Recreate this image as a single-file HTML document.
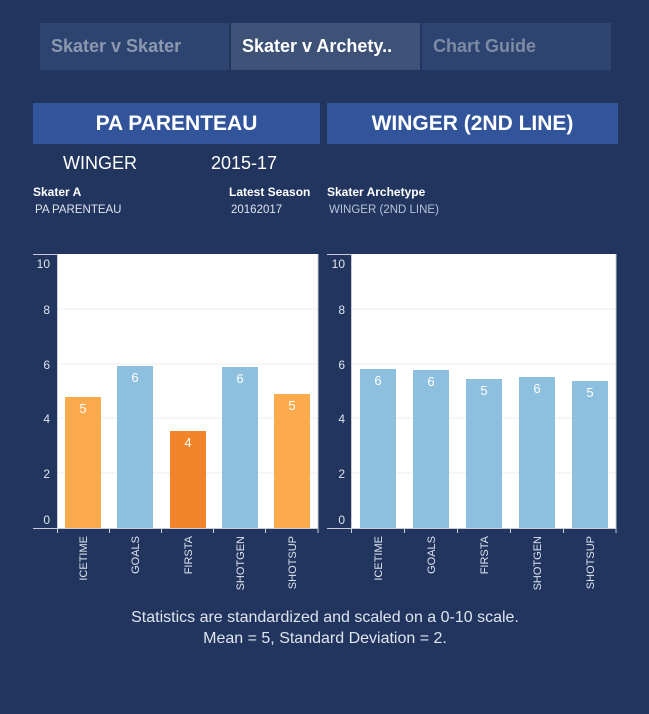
<!DOCTYPE html>
<html><head><meta charset="utf-8"><style>
body{margin:0;width:649px;height:714px;background:#21355f;font-family:"Liberation Sans",sans-serif;position:relative;overflow:hidden}
.a{position:absolute}
.tab{position:absolute;top:23px;height:47px;background:#2e4470;color:#8c98b0;font-size:18px;font-weight:bold;line-height:47px;padding-left:11px;box-sizing:border-box}
.hd{position:absolute;top:103px;height:41px;background:#32549a;color:#fff;font-weight:bold;font-size:21px;text-align:center;line-height:41px}
</style></head><body>
<div class="tab" style="left:40px;width:189px">Skater v Skater</div>
<div class="tab" style="left:231px;width:189px;background:#3e5278;color:#fff">Skater v Archety..</div>
<div class="tab" style="left:422px;width:189px;color:#7d8aa4">Chart Guide</div>
<div class="hd" style="left:33px;width:287px">PA PARENTEAU</div>
<div class="hd" style="left:327px;width:291px">WINGER (2ND LINE)</div>
<div class="a" style="left:63px;top:153px;color:#fff;font-size:18px">WINGER</div>
<div class="a" style="left:211px;top:153px;color:#fff;font-size:18px">2015-17</div>
<div class="a" style="left:33px;top:185px;color:#fff;font-size:12px;font-weight:bold">Skater A</div>
<div class="a" style="left:229px;top:185px;color:#fff;font-size:12px;font-weight:bold">Latest Season</div>
<div class="a" style="left:327px;top:185px;color:#fff;font-size:12px;font-weight:bold">Skater Archetype</div>
<div class="a" style="left:35px;top:204px;color:#dfe5ef;font-size:11.5px">PA PARENTEAU</div>
<div class="a" style="left:231px;top:204px;color:#dfe5ef;font-size:11.5px">20162017</div>
<div class="a" style="left:329px;top:204px;color:#b8c3d6;font-size:11.5px">WINGER (2ND LINE)</div>
<svg class="a" style="left:0;top:0" width="649" height="714" font-family="Liberation Sans, sans-serif">
<g>
<rect x="57" y="254" width="261" height="274" fill="#fff"/>
<g stroke="#eeeeee"><line x1="57" x2="318" y1="309" y2="309"/><line x1="57" x2="318" y1="364" y2="364"/><line x1="57" x2="318" y1="418" y2="418"/><line x1="57" x2="318" y1="473" y2="473"/></g>
<rect x="65" y="397" width="36" height="131" fill="#fcaa4e"/>
<rect x="117" y="366" width="36" height="162" fill="#8dbfdf"/>
<rect x="170" y="431" width="36" height="97" fill="#f2852c"/>
<rect x="222" y="367" width="36" height="161" fill="#8dbfdf"/>
<rect x="274" y="394" width="36" height="134" fill="#fcaa4e"/>
<g fill="#fff" font-size="13" text-anchor="middle"><text x="83" y="413">5</text><text x="135" y="382">6</text><text x="188" y="447">4</text><text x="240" y="383">6</text><text x="292" y="410">5</text></g>
<g stroke="#c8ccd4"><line x1="33" x2="318" y1="528.5" y2="528.5"/><line x1="57.5" x2="57.5" y1="254" y2="528"/><line x1="318" x2="318" y1="254" y2="528"/><line x1="33" x2="57" y1="254.5" y2="254.5"/></g>
<g stroke="#c8ccd4"><line x1="57.5" x2="57.5" y1="528" y2="533"/><line x1="109.5" x2="109.5" y1="528" y2="533"/><line x1="161.5" x2="161.5" y1="528" y2="533"/><line x1="213.5" x2="213.5" y1="528" y2="533"/><line x1="265.5" x2="265.5" y1="528" y2="533"/><line x1="318" x2="318" y1="528" y2="533"/></g>
<g fill="#dfe5ef" font-size="12" text-anchor="end"><text x="50" y="268">10</text><text x="50" y="314">8</text><text x="50" y="369">6</text><text x="50" y="423">4</text><text x="50" y="478">2</text><text x="50" y="524">0</text></g>
<g fill="#dfe5ef" font-size="11" text-anchor="end"><text transform="translate(87,536) rotate(-90)">ICETIME</text><text transform="translate(139,536) rotate(-90)">GOALS</text><text transform="translate(192,536) rotate(-90)">FIRSTA</text><text transform="translate(244,536) rotate(-90)">SHOTGEN</text><text transform="translate(296,536) rotate(-90)">SHOTSUP</text></g>
</g>
<g>
<rect x="351" y="254" width="265" height="274" fill="#fff"/>
<g stroke="#eeeeee"><line x1="351" x2="616" y1="309" y2="309"/><line x1="351" x2="616" y1="364" y2="364"/><line x1="351" x2="616" y1="418" y2="418"/><line x1="351" x2="616" y1="473" y2="473"/></g>
<g fill="#8dbfdf"><rect x="360" y="369" width="36" height="159"/><rect x="413" y="370" width="36" height="158"/><rect x="466" y="379" width="36" height="149"/><rect x="519" y="377" width="36" height="151"/><rect x="572" y="381" width="36" height="147"/></g>
<g fill="#fff" font-size="13" text-anchor="middle"><text x="378" y="385">6</text><text x="431" y="386">6</text><text x="484" y="395">5</text><text x="537" y="393">6</text><text x="590" y="397">5</text></g>
<g stroke="#c8ccd4"><line x1="327" x2="616" y1="528.5" y2="528.5"/><line x1="351.5" x2="351.5" y1="254" y2="528"/><line x1="616" x2="616" y1="254" y2="528"/><line x1="327" x2="351" y1="254.5" y2="254.5"/></g>
<g stroke="#c8ccd4"><line x1="351.5" x2="351.5" y1="528" y2="533"/><line x1="404.5" x2="404.5" y1="528" y2="533"/><line x1="457.5" x2="457.5" y1="528" y2="533"/><line x1="510.5" x2="510.5" y1="528" y2="533"/><line x1="563.5" x2="563.5" y1="528" y2="533"/><line x1="616" x2="616" y1="528" y2="533"/></g>
<g fill="#dfe5ef" font-size="12" text-anchor="end"><text x="345" y="268">10</text><text x="345" y="314">8</text><text x="345" y="369">6</text><text x="345" y="423">4</text><text x="345" y="478">2</text><text x="345" y="524">0</text></g>
<g fill="#dfe5ef" font-size="11" text-anchor="end"><text transform="translate(382,536) rotate(-90)">ICETIME</text><text transform="translate(435,536) rotate(-90)">GOALS</text><text transform="translate(488,536) rotate(-90)">FIRSTA</text><text transform="translate(541,536) rotate(-90)">SHOTGEN</text><text transform="translate(594,536) rotate(-90)">SHOTSUP</text></g>
</g>
<g fill="#dfe5ef" font-size="16" text-anchor="middle"><text x="325" y="622">Statistics are standardized and scaled on a 0-10 scale.</text><text x="325" y="643">Mean = 5, Standard Deviation = 2.</text></g>
</svg>
</body></html>
